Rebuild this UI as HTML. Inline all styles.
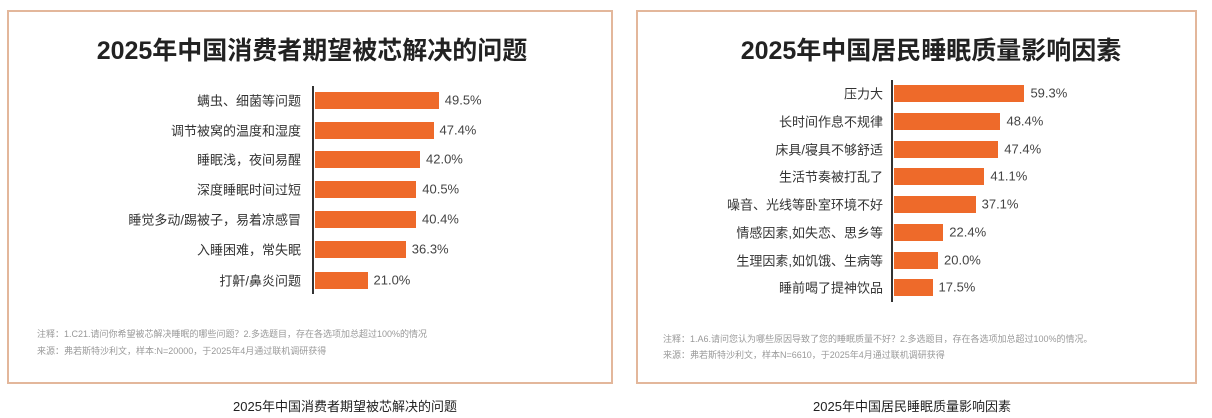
<!DOCTYPE html>
<html><head><meta charset="utf-8"><style>
body{margin:0;width:1212px;height:418px;background:#fff;position:relative;overflow:hidden;font-family:"Liberation Sans","Noto Sans CJK SC",sans-serif;color:#333}
.box{position:absolute;border:2px solid #e3b79b;box-sizing:border-box}
.t{position:absolute;white-space:nowrap}
.title{font-size:25px;font-weight:bold;color:#222;transform:translateX(-50%)}
.lab{font-size:13px;color:#333;text-align:right;transform:translate(-100%,-50%)}
.val{font-size:13px;color:#444;transform:translateY(-50%)}
.bar{position:absolute;background:#ee6a2a;height:17px}
.axis{position:absolute;width:2px;background:#333}
.note{font-size:9px;color:#999}
.cap{font-size:13px;color:#222;transform:translateX(-50%)}
</style></head><body>
<div class="box" style="left:7px;top:10px;width:606px;height:374px"></div>
<div class="t title" style="left:312px;top:31px">2025年中国消费者期望被芯解决的问题</div>
<div class="axis" style="left:312px;top:86px;height:208px"></div>
<div id="L"></div>
<div class="t note" style="left:37px;top:327px">注释：1.C21.请问你希望被芯解决睡眠的哪些问题？2.多选题目，存在各选项加总超过100%的情况</div>
<div class="t note" style="left:37px;top:344px">来源：弗若斯特沙利文，样本:N=20000，于2025年4月通过联机调研获得</div>
<div class="t cap" style="left:345px;top:396px">2025年中国消费者期望被芯解决的问题</div>

<div class="box" style="left:636px;top:10px;width:561px;height:374px"></div>
<div class="t title" style="left:931px;top:31px">2025年中国居民睡眠质量影响因素</div>
<div class="axis" style="left:891px;top:80px;height:222px"></div>
<div class="t note" style="left:663px;top:332px">注释：1.A6.请问您认为哪些原因导致了您的睡眠质量不好？2.多选题目，存在各选项加总超过100%的情况。</div>
<div class="t note" style="left:663px;top:348px">来源：弗若斯特沙利文，样本N=6610，于2025年4月通过联机调研获得</div>
<div class="t cap" style="left:912px;top:396px">2025年中国居民睡眠质量影响因素</div>
<div id="R"></div>
<script>
function draw(id,ax,ys,labs,vals,sc,lx){var h='';for(var i=0;i<labs.length;i++){var w=vals[i]*sc;
h+='<div class="bar" style="left:'+(ax+2)+'px;top:'+(ys[i]-8.5)+'px;width:'+w+'px"></div>';
h+='<div class="t lab" style="left:'+lx+'px;top:'+ys[i]+'px">'+labs[i]+'</div>';
h+='<div class="t val" style="left:'+(ax+w+8)+'px;top:'+ys[i]+'px">'+vals[i].toFixed(1)+'%</div>';}
document.getElementById(id).innerHTML=h;}
draw('L',313,[100,130,159,189,219,249,280],['螨虫、细菌等问题','调节被窝的温度和湿度','睡眠浅，夜间易醒','深度睡眠时间过短','睡觉多动/踢被子，易着凉感冒','入睡困难，常失眠','打鼾/鼻炎问题'],[49.5,47.4,42.0,40.5,40.4,36.3,21.0],2.5,301);
draw('R',892,[93,121,149,176,204,232,260,287],['压力大','长时间作息不规律','床具/寝具不够舒适','生活节奏被打乱了','噪音、光线等卧室环境不好','情感因素,如失恋、思乡等','生理因素,如饥饿、生病等','睡前喝了提神饮品'],[59.3,48.4,47.4,41.1,37.1,22.4,20.0,17.5],2.2,883);
</script>
</body></html>
